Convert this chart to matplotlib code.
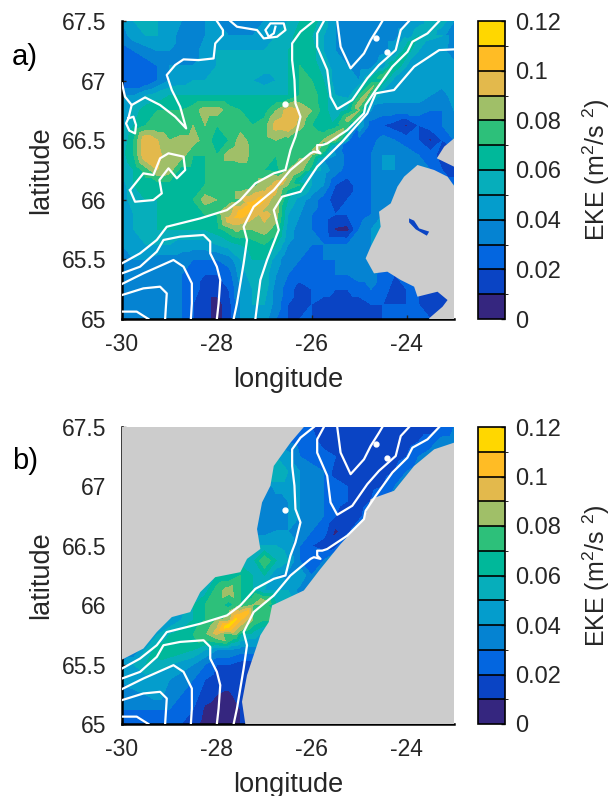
import matplotlib
matplotlib.use('Agg')
import matplotlib.pyplot as plt
from matplotlib.colors import ListedColormap, BoundaryNorm
from matplotlib.tri import Triangulation
import numpy as np

plt.rcParams['font.family'] = ['Liberation Sans', 'DejaVu Sans']
plt.rcParams['mathtext.default'] = 'regular'
plt.rcParams['axes.unicode_minus'] = False

# Grid of the EKE fields, in 0.01 m2/s2, rows from north to south
lon_grid = [-30, -29.75, -29.5, -29.25, -29, -28.75, -28.5, -28.25, -28, -27.75, -27.5, -27.25, -27, -26.75, -26.5,
            -26.25, -26, -25.75, -25.5, -25.25, -25, -24.75, -24.5, -24.25, -24, -23.75, -23.5, -23.25, -23]
lat_grid = [67.5, 67.375, 67.25, 67.125, 67, 66.875, 66.75, 66.625, 66.5, 66.375, 66.25,
            66.125, 66, 65.875, 65.75, 65.625, 65.5, 65.375, 65.25, 65.125, 65]

eke_a = [
    [4, 5, 5, 5, 4.5, 4, 4, 4, 4, 3.5, 3.5, 3.5, 4, 4.5, 5, 6, 6.5, 5.5, 4, 3.5, 3.5, 3.5, 3.5, 3.5, 3.5, 4.5, 5.5, 5.5, 4],
    [3.5, 4.5, 5, 5, 4.5, 3.5, 3.5, 4, 4.5, 4, 4, 4, 4.5, 5, 5.5, 6.5, 6, 5, 4, 3.5, 3.5, 3, 3.5, 3.5, 4, 6, 5.5, 5, 3],
    [2.5, 3, 3.5, 4, 4, 3.5, 3.5, 4.5, 5, 5, 5, 5, 5, 5.5, 6, 6.5, 6.5, 5, 4, 3.5, 3.5, 3, 3.5, 4, 6.5, 5, 5, 4.5, 3],
    [2, 2, 2.5, 3, 4, 4, 4, 4.5, 5, 5, 5.5, 5.5, 5.5, 5.5, 6, 7, 6.5, 5.5, 4.5, 4, 3.5, 3.5, 4, 7, 5, 4.5, 4.5, 4.5, 4.5],
    [2, 2, 2, 3, 4, 4.5, 5, 5, 5, 5, 5.5, 5, 4.5, 5, 6, 7, 7, 6, 4.5, 4, 4, 6.5, 6.5, 4.5, 4.5, 4.5, 4.5, 4.5, 4.5],
    [4, 4, 5, 5.5, 6, 6, 6, 6, 6, 6, 6, 6, 6, 6, 6, 7, 7.5, 6.5, 5, 4.5, 7, 6.5, 4.5, 4.5, 4.5, 4.5, 4, 3.5, 4.5],
    [4, 5.5, 6.5, 7, 7, 7, 7.5, 8.5, 8.5, 7.5, 7, 6.5, 6.5, 8, 9.5, 9, 8, 6.5, 5, 6, 8, 4, 3.5, 3.5, 3.5, 3.5, 3, 3, 4],
    [4.5, 6, 7, 7, 7, 7, 8, 8, 7, 7, 7.5, 7, 7.5, 9.5, 10, 8.5, 7, 6, 6.5, 7.5, 5, 2.5, 2, 1.5, 0.8, 2, 2.5, 3, 4],
    [5, 7, 10, 9, 8, 8.5, 8.5, 7.5, 6.5, 7, 8.5, 7.5, 7.5, 8, 7.5, 7, 7, 8, 8, 5, 2.5, 2.5, 3.5, 3, 2.5, 2, 0.8, 2, 3],
    [5.5, 7, 10, 9.5, 8, 8.5, 7, 7, 7, 8.5, 9, 7.5, 7, 7, 7, 7.5, 8, 6.5, 4, 2.5, 2, 3, 4, 4, 3.5, 3, 2.5, 1.5, 1],
    [5, 6, 7.5, 9, 8.5, 6.5, 6.5, 7, 7, 7, 7, 7, 7, 6.5, 8, 8.5, 6.5, 4.5, 3.5, 2.5, 2, 3, 4, 4, 4, 3.5, 3, 2, 1],
    [4.5, 6, 6.5, 6.5, 6.5, 6.5, 6.5, 7, 7, 7, 7, 7, 8, 9.5, 8, 7, 5, 4, 2, 1.5, 2.5, 3, 3, 3, 3, 3, 3, 3, 3],
    [4.5, 5.5, 6, 6, 6, 6, 7, 8.5, 8, 7, 7.5, 9.5, 10, 8, 6, 4.5, 3.5, 2.5, 1.5, 2, 2.5, 3, 3.5, 4, 4, 4, 4, 4, 4],
    [4.5, 5, 5.5, 6, 6, 6, 6.5, 7, 7, 8.5, 10.5, 9.5, 9.5, 8.5, 5, 4, 3, 2.5, 2, 2, 2.5, 3, 4, 4.5, 4.5, 4.5, 4.5, 4.5, 4.5],
    [4.5, 5, 5.5, 6, 6, 6, 6, 6, 6.5, 7.5, 8, 8, 8.5, 7.5, 4.5, 3.5, 3, 2.5, 0.8, 0.6, 3, 4, 4.5, 4.5, 4.5, 4.5, 4.5, 4.5, 4.5],
    [4, 4.5, 5, 5, 5, 4.5, 4.5, 4.5, 5, 5.5, 6, 6.5, 7, 6, 4, 3.5, 3, 3, 3, 3, 3.5, 4, 4.5, 4.5, 4.5, 4.5, 4.5, 4.5, 4.5],
    [3.5, 4, 4, 3.5, 3.5, 3.5, 3, 3, 3, 3.5, 5, 6, 6, 4.5, 3, 3, 2.5, 3, 3, 3.5, 3.5, 4, 4.5, 5, 5, 5, 5, 5, 5],
    [3.5, 3.5, 3.5, 3, 3, 3, 2.5, 2, 2, 2.5, 4.5, 5.5, 5.5, 4, 3, 2.5, 2.5, 2.5, 3, 3, 3.5, 3.5, 2.5, 2, 2, 2, 2, 2, 2],
    [3.5, 3.5, 3, 3, 3, 3, 2.5, 1.5, 1.5, 2, 4, 5, 5.5, 3.5, 2.5, 1.5, 2, 2.5, 2, 2, 2.5, 3, 2.5, 1.5, 2, 2, 2, 2, 2],
    [3, 3, 3, 3.5, 3.5, 3, 2, 1.5, 0.5, 1.5, 4, 5, 5, 3.5, 2, 1.5, 2, 1.5, 1.5, 1.5, 1.5, 2, 2, 2, 2, 2, 1.5, 1.5, 2],
    [3, 3, 3, 3.5, 3.5, 3, 2, 1.5, 0.5, 1.5, 4, 4.5, 4.5, 3, 2, 2, 2, 1.5, 1.5, 1.5, 1.5, 1.5, 2, 2, 2, 2, 2, 2, 2],
]

eke_b = [
    [3, 3, 3, 3, 3, 3, 3, 3, 3, 3, 3, 3, 3, 3, 3, 2.5, 2, 2, 1.5, 1.5, 1.5, 1.5, 1.5, 1.5, 1.5, 1.5, 1.5, 2, 3],
    [3, 3, 3, 3, 3, 3, 3, 3, 3, 3, 3, 3, 3, 3, 3, 2.5, 2.5, 1.5, 1.5, 1.5, 1.5, 1.5, 1.5, 1.5, 1.5, 2, 2.5, 3.5, 3.5],
    [5, 5, 5, 5, 5, 5, 5, 5, 5, 5, 5, 5, 5, 5, 4.5, 3, 2.5, 2.5, 2, 1.5, 1.5, 1.5, 1.5, 1.5, 2, 3, 3.5, 3.5, 3.5],
    [6, 6, 6, 6, 6, 6, 6, 6, 6, 6, 6, 6, 6, 6, 5, 4, 3.5, 3, 1.5, 1.5, 1.5, 1.5, 1.5, 2, 3, 3.5, 3.5, 3.5, 3.5],
    [3, 3, 3, 3, 3, 3, 3, 3, 3, 3, 3, 3, 3, 4.5, 4.5, 4, 3.5, 3, 2.5, 2, 1.5, 1.5, 2, 3, 3, 3, 3, 3, 3],
    [3, 3, 3, 3, 3, 3, 3, 3, 3, 3, 3, 3, 3, 3.5, 4, 4, 3.5, 3, 2.5, 2, 1, 2, 3.5, 3.5, 3.5, 3.5, 3.5, 3.5, 3.5],
    [3, 3, 3, 3, 3, 3, 3, 3, 3, 3, 3, 3, 3, 3.5, 4, 4, 3.5, 3, 2, 1, 1.5, 3.5, 3.5, 3.5, 3.5, 3.5, 3.5, 3.5, 3.5],
    [3.5, 3.5, 3.5, 3.5, 3.5, 3.5, 3.5, 3.5, 3.5, 3.5, 3.5, 3.5, 3.5, 4, 4, 3.5, 3, 2.5, 0.8, 1.5, 3.5, 3.5, 3.5, 3.5, 3.5, 3.5, 3.5, 3.5, 3.5],
    [5, 5, 5, 5, 5, 5, 5, 5, 5, 5, 5, 5, 5, 5, 4.5, 3, 2, 1.5, 1.5, 4, 4, 4, 4, 4, 4, 4, 4, 4, 4],
    [5.5, 5.5, 5.5, 5.5, 5.5, 5.5, 5.5, 5.5, 5.5, 5.5, 5.5, 5.5, 8, 6, 5, 3, 2.5, 3, 5, 5, 5, 5, 5, 5, 5, 5, 5, 5, 5],
    [6, 6, 6, 6, 6, 6, 6, 6, 6, 6, 7, 6, 6, 4, 3.5, 5, 3, 3, 3, 3, 3, 3, 3, 3, 3, 3, 3, 3, 3],
    [5.5, 5.5, 5.5, 5.5, 5.5, 5.5, 5.5, 5.5, 7.5, 8.5, 7, 6, 5, 5, 5, 3.5, 3.5, 3.5, 3.5, 3.5, 3.5, 3.5, 3.5, 3.5, 3.5, 3.5, 3.5, 3.5, 3.5],
    [4.5, 4.5, 4.5, 4.5, 4.5, 4.5, 6, 7, 7.5, 6.5, 7, 8, 7.5, 6, 6, 6, 6, 6, 6, 6, 6, 6, 6, 6, 6, 6, 6, 6, 6],
    [4, 4, 4, 4, 4, 5, 6, 7, 8, 8.5, 10, 8, 7, 7, 7, 7, 7, 7, 7, 7, 7, 7, 7, 7, 7, 7, 7, 7, 7],
    [3.5, 3.5, 3.5, 5, 6, 6.5, 7, 8, 9, 7, 6, 5.5, 4.5, 4.5, 4.5, 4.5, 4.5, 4.5, 4.5, 4.5, 4.5, 4.5, 4.5, 4.5, 4.5, 4.5, 4.5, 4.5, 4.5],
    [3, 3, 5, 6.5, 7, 6.5, 6, 5, 4, 4, 3.5, 3.5, 3.5, 3.5, 3.5, 3.5, 3.5, 3.5, 3.5, 3.5, 3.5, 3.5, 3.5, 3.5, 3.5, 3.5, 3.5, 3.5, 3.5],
    [4, 5, 6, 5.5, 5, 4.5, 4, 3, 2, 2, 1.5, 1.5, 1.5, 1.5, 1.5, 1.5, 1.5, 1.5, 1.5, 1.5, 1.5, 1.5, 1.5, 1.5, 1.5, 1.5, 1.5, 1.5, 1.5],
    [4, 5, 4.5, 4.5, 4, 3.5, 3, 2, 1.5, 1.5, 2, 2, 2, 2, 2, 2, 2, 2, 2, 2, 2, 2, 2, 2, 2, 2, 2, 2, 2],
    [3, 3.5, 4, 4.5, 3.5, 3, 2.5, 1.5, 1, 0.8, 1.5, 1.5, 1.5, 1.5, 1.5, 1.5, 1.5, 1.5, 1.5, 1.5, 1.5, 1.5, 1.5, 1.5, 1.5, 1.5, 1.5, 1.5, 1.5],
    [3, 3, 3, 3, 3, 2.5, 2, 0.8, 0.5, 0.5, 1, 1, 1, 1, 1, 1, 1, 1, 1, 1, 1, 1, 1, 1, 1, 1, 1, 1, 1],
    [2.5, 2.5, 2.5, 2.5, 2.5, 2, 1.5, 0.5, 0.5, 0.5, 1, 1, 1, 1, 1, 1, 1, 1, 1, 1, 1, 1, 1, 1, 1, 1, 1, 1, 1],
]

# Extra readings along the narrow shelf-break jet: core, and its NW and SE sides
jet_lon_a = [-23.45, -23.7, -23.91, -24.1, -24.3, -24.5, -24.69, -24.87, -25.04, -25.22, -25.39,
             -25.53, -25.67, -25.92, -26.17, -26.42, -26.66, -26.87, -27.08, -27.29, -27.5, -27.75]
jet_lat_a = [67.46, 67.38, 67.31, 67.21, 67.12, 67.04, 66.96, 66.87, 66.78, 66.68, 66.57,
             66.53, 66.5, 66.4, 66.31, 66.22, 66.14, 66.07, 66.0, 65.95, 65.89, 65.83]
jet_core_a = [5.5, 6, 6.5, 7, 7, 7.5, 8, 8.5, 8.5, 8.5, 8.5, 8.5, 8.5, 8.5, 8.5, 8.5, 9.5, 10, 10.5, 10.5, 10.5, 9.5]
jet_nw_a = [4.5, 4.5, 4.5, 4.5, 4.5, 4.5, 5, 5, 5, 5.5, 6, 6.5, 7, 7, 7.5, 8, 8, 8.5, 8.5, 9, 8.5, 8]
jet_se_a = [4.5, 4.5, 4.5, 4.5, 4.5, 4.5, 4.5, 4, 3.5, 3, 3, 3, 3.5, 4, 5, 5.5, 6.5, 8, 8.5, 9, 9, 8.5]

jet_lon_b = [-27.01, -27.36, -27.58, -27.79, -28, -28.21]
jet_lat_b = [66.03, 65.94, 65.89, 65.82, 65.77, 65.76]
jet_core_b = [8.5, 10.5, 11, 11.5, 9.5, 8]
jet_nw_b = [7, 7.5, 7.5, 7.5, 7.5, 7]
jet_se_b = [7, 7.5, 8, 8, 8, 7]

# White isobaths, (lon, lat)
iso_b = [(-25.955, 67.5), (-26.237, 67.41), (-26.413, 67.312), (-26.413, 67.172), (-26.364, 67.005), (-26.343, 66.809),
         (-26.237, 66.697), (-26.343, 66.529), (-26.448, 66.418), (-26.554, 66.25), (-26.8, 66.222), (-27.188, 66.138),
         (-27.505, 65.998), (-27.787, 65.914), (-28.351, 65.844), (-29.056, 65.774), (-29.267, 65.663), (-29.619, 65.551),
         (-30, 65.467)]
iso_c = [(-25.744, 67.5), (-25.885, 67.396), (-25.885, 67.284), (-25.673, 67.089), (-25.603, 66.865), (-25.462, 66.761),
         (-25.145, 66.837), (-24.828, 67.019), (-24.581, 67.131), (-24.229, 67.256), (-24.123, 67.424), (-23.947, 67.5)]
iso_d = [(-25.462, 67.5), (-25.391, 67.284), (-25.18, 67.103), (-24.898, 67.228), (-24.757, 67.34), (-24.581, 67.452),
         (-24.51, 67.5)]
iso_e = [(-23.312, 67.5), (-23.559, 67.396), (-23.876, 67.326), (-23.982, 67.242), (-24.299, 67.117), (-24.651, 66.921),
         (-24.863, 66.795), (-24.898, 66.725), (-25.25, 66.585), (-25.673, 66.473), (-25.779, 66.459), (-25.885, 66.459),
         (-25.885, 66.418), (-25.815, 66.39), (-25.955, 66.404), (-26.025, 66.39), (-26.448, 66.25), (-26.8, 66.082),
         (-27.224, 65.942), (-27.435, 65.774), (-27.364, 65.663), (-27.435, 65.467), (-27.576, 65.131), (-27.646, 65)]
iso_f = [(-23, 67.262), (-23.312, 67.256), (-23.841, 67.117), (-24.264, 66.921), (-24.651, 66.893), (-24.828, 66.725),
         (-25.356, 66.487), (-25.885, 66.278), (-26.237, 66.068), (-26.625, 66.026), (-26.8, 65.914), (-26.695, 65.747),
         (-26.942, 65.495), (-27.083, 65.327), (-27.188, 65)]
iso_g = [(-30, 65.383), (-29.619, 65.439), (-29.267, 65.565), (-29.126, 65.663), (-28.774, 65.691), (-28.281, 65.705),
         (-28.14, 65.649), (-28.14, 65.551), (-28, 65.439), (-27.928, 65.327), (-27.963, 65.131), (-28, 65)]
iso_h = [(-30, 65.294), (-29.549, 65.383), (-28.915, 65.495), (-28.703, 65.439), (-28.527, 65.299), (-28.527, 65.131),
         (-28.548, 65)]
iso_i = [(-30, 65.201), (-29.549, 65.257), (-29.197, 65.271), (-29.056, 65.215), (-29.091, 65)]
iso_j = [(-30, 65.062), (-29.69, 65.062), (-29.443, 65)]
iso_a = [(-28, 67.5), (-27.872, 67.424), (-27.872, 67.382), (-28.034, 67.312), (-28.069, 67.186), (-28.386, 67.172),
         (-28.703, 67.178), (-28.879, 67.131), (-29.056, 67.047), (-28.95, 66.921), (-28.774, 66.781), (-28.647, 66.599),
         (-28.879, 66.697), (-29.197, 66.795), (-29.514, 66.859), (-29.796, 66.795), (-29.937, 66.865), (-30, 66.977)]
iso_ring = [(-29.866, 66.683), (-29.76, 66.697), (-29.704, 66.627), (-29.725, 66.557), (-29.845, 66.58), (-29.915, 66.641),
            (-29.866, 66.683), (-29.796, 66.795)]
iso_k = [(-29.831, 66.082), (-29.549, 66.222), (-29.338, 66.208), (-29.197, 66.348), (-29.02, 66.39), (-28.703, 66.362),
         (-28.668, 66.25), (-28.844, 66.18), (-29.02, 66.264), (-29.211, 66.166), (-29.161, 66.054), (-29.338, 65.998),
         (-29.725, 65.984), (-29.831, 66.082)]
iso_l = [(-27.717, 67.5), (-27.576, 67.452), (-27.153, 67.424), (-27.012, 67.354), (-26.73, 67.368), (-26.554, 67.424),
         (-26.59, 67.48), (-26.871, 67.48), (-26.977, 67.424), (-26.906, 67.368), (-26.8, 67.396), (-26.765, 67.452)]
iso_dots = [(-26.554, 66.803), (-24.651, 67.354), (-24.419, 67.237)]

# Land outlines
land_a_main = [(-23, 66.118), (-23.136, 66.194), (-23.418, 66.25), (-23.77, 66.292), (-24.052, 66.194), (-24.193, 66.11),
               (-24.334, 65.97), (-24.581, 65.9), (-24.546, 65.774), (-24.757, 65.607), (-24.863, 65.509), (-24.687, 65.383),
               (-24.405, 65.397), (-24.123, 65.327), (-23.841, 65.271), (-23.77, 65.187), (-23.348, 65.229), (-23.136, 65.159),
               (-23.242, 65.103), (-23.524, 65.006), (-23.524, 65), (-23, 65)]
land_a_north = [(-23, 66.515), (-23.207, 66.446), (-23.362, 66.348), (-23, 66.278)]
lake_a = [(-23.947, 65.844), (-23.841, 65.825), (-23.735, 65.76), (-23.524, 65.733), (-23.573, 65.699), (-23.806, 65.752),
          (-23.947, 65.811)]
land_b_nw = [(-30, 65.542), (-29.549, 65.635), (-29.267, 65.774), (-28.95, 65.9), (-28.562, 65.942), (-28.351, 66.11),
             (-28.034, 66.236), (-27.505, 66.278), (-27.364, 66.39), (-27.083, 66.473), (-27.153, 66.641), (-27.047, 66.865),
             (-26.871, 67.005), (-26.8, 67.172), (-26.448, 67.368), (-26.166, 67.5), (-30, 67.5)]
land_b_se = [(-27.4, 65), (-27.47, 65.187), (-27.364, 65.411), (-27.224, 65.579), (-27.083, 65.747), (-26.906, 65.858),
             (-26.836, 65.998), (-26.166, 66.124), (-25.815, 66.306), (-25.391, 66.515), (-24.898, 66.725), (-24.757, 66.893),
             (-24.264, 66.963), (-23.841, 67.172), (-23.418, 67.312), (-23, 67.368), (-23, 65)]

# Levels and colours of the colour bar
levels = [0, 0.01, 0.02, 0.03, 0.04, 0.05, 0.06, 0.07, 0.08, 0.09, 0.1, 0.11, 0.12]
colors = ['#35267f', '#0a44c4', '#0366e0', '#0583d2', '#049dcc', '#06aebb',
          '#00b89a', '#2dc07a', '#a0bf68', '#e3b94c', '#ffbc25', '#ffd700']
lon_ticks = [-30, -28, -26, -24]
lat_ticks = [65, 65.5, 66, 66.5, 67, 67.5]
lat_labels = ['65', '65.5', '66', '66.5', '67', '67.5']
cbar_ticks = [0, 0.02, 0.04, 0.06, 0.08, 0.1, 0.12]
cbar_labels = ['0', '0.02', '0.04', '0.06', '0.08', '0.1', '0.12']

GRAY = '#cccccc'
TXT = '#262626'
W, H = 609, 796


def px_axes(fig, x0, y0, x1, y1):
    # Axes placed by their pixel box, y measured from the top
    return fig.add_axes([x0 / W, (H - y1) / H, (x1 - x0) / W, (y1 - y0) / H])


def field_points(eke, jet_lon, jet_lat, jet_core, jet_nw, jet_se):
    # Grid nodes plus the jet readings, sides of the jet about 12 px off its core
    glon, glat = np.meshgrid(lon_grid, lat_grid)
    jlon, jlat = np.array(jet_lon), np.array(jet_lat)
    xs = np.concatenate([glon.ravel(), jlon, jlon - 0.18, jlon + 0.18])
    ys = np.concatenate([glat.ravel(), jlat, jlat + 0.07, jlat - 0.07])
    zs = np.concatenate([np.array(eke).ravel(), jet_core, jet_nw, jet_se]) / 100
    # triangles worked out on the screen proportions of the map
    tris = Triangulation(xs * 47.4, ys * 119).triangles
    return Triangulation(xs, ys, triangles=tris), zs


def draw_panel(fig, box, cbox, tri, zs, lands, lines, letter, letter_y):
    cmap = ListedColormap(colors)
    norm = BoundaryNorm(levels, cmap.N)
    ax = px_axes(fig, *box)
    cf = ax.tricontourf(tri, zs, levels=levels, cmap=cmap, norm=norm)
    for land in lands:
        xs, ys = zip(*land)
        ax.fill(xs, ys, color=GRAY, lw=0, zorder=3)
    for line in lines:
        xs, ys = zip(*line)
        ax.plot(xs, ys, color='white', lw=1.6, solid_joinstyle='round', zorder=4)

    ax.set_xlim(-30, -23)
    ax.set_ylim(65, 67.5)
    ax.set_xticks(lon_ticks)
    ax.set_yticks(lat_ticks)
    ax.set_yticklabels(lat_labels)
    ax.tick_params(direction='in', length=3, width=1, labelsize=16.5, colors=TXT)
    ax.tick_params(axis='x', pad=10)
    ax.tick_params(axis='y', pad=11)
    ax.spines['top'].set_visible(False)
    ax.spines['right'].set_visible(False)
    ax.spines['left'].set_linewidth(1.8)
    ax.spines['bottom'].set_linewidth(1.8)
    ax.set_xlabel('longitude', fontsize=19.5, color=TXT, labelpad=8)
    ax.set_ylabel('latitude', fontsize=19.5, color=TXT, labelpad=6)
    fig.text(12 / W, 1 - letter_y / H, letter, fontsize=21, color='black', va='center')

    cax = px_axes(fig, *cbox)
    cb = fig.colorbar(cf, cax=cax, ticks=cbar_ticks, drawedges=True, spacing='proportional')
    cb.set_ticklabels(cbar_labels)
    cb.ax.tick_params(direction='in', length=3, width=1, labelsize=17, colors=TXT, pad=7)
    cb.outline.set_linewidth(1.2)
    cb.dividers.set_linewidth(1.2)
    cb.set_label('EKE (m$^2$/s $^2$)', fontsize=18, color=TXT, labelpad=14)
    return ax


def main():
    fig = plt.figure(figsize=(W / 100, H / 100), dpi=100)
    lines_a = [iso_a, iso_ring, iso_k, iso_l, iso_b, iso_c, iso_d, iso_e, iso_f, iso_g, iso_h, iso_i, iso_j]
    lines_b = [iso_b, iso_c, iso_d, iso_e, iso_g, iso_h, iso_i, iso_j]
    tri_a, zs_a = field_points(eke_a, jet_lon_a, jet_lat_a, jet_core_a, jet_nw_a, jet_se_a)
    tri_b, zs_b = field_points(eke_b, jet_lon_b, jet_lat_b, jet_core_b, jet_nw_b, jet_se_b)
    ax_a = draw_panel(fig, (122, 21, 454, 319), (478, 21, 505, 319), tri_a, zs_a,
                      [land_a_main, land_a_north], lines_a, 'a)', 57)
    ax_b = draw_panel(fig, (122, 427, 454, 724), (478, 427, 505, 724), tri_b, zs_b,
                      [land_b_nw, land_b_se], lines_b, 'b)', 461)

    # Small details kept on top of the isobaths
    xs, ys = zip(*lake_a)
    ax_a.fill(xs, ys, color=colors[1], lw=0, zorder=5)
    for ax in (ax_a, ax_b):
        xs, ys = zip(*iso_dots)
        ax.plot(xs, ys, ls='none', marker='o', ms=3.5, color='white', zorder=5)

    fig.savefig('out.png', dpi=100)


if __name__ == '__main__':
    main()
